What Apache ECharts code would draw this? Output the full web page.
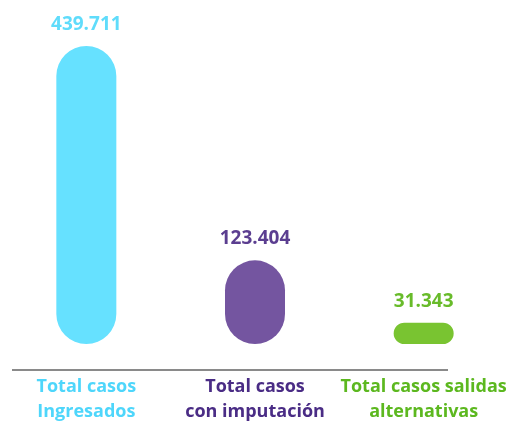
<!DOCTYPE html>
<html style="height: 100%">
<head>
    <meta charset="utf-8">
</head>
<body style="height: 100%; margin: 0; background: #fff">
<div id="container" style="width: 514px; height: 424px"></div>

<script type="text/javascript" src="https://cdn.jsdelivr.net/npm/echarts@6/dist/echarts.min.js"></script>
<script type="text/javascript">
    // data
    var categories = ['Total casos\nIngresados', 'Total casos\ncon imputación', 'Total casos salidas\nalternativas'];
    var values = [439711, 123404, 31343];

    // colours
    var barColors = ['#66e1ff', '#7455a0', '#79c431'];
    var valueColors = ['#5fdcfb', '#5b3e90', '#68bb2a'];
    var catColors = ['#4ed6fb', '#4a2c85', '#5cb81f'];

    function fmt(v) {
        return String(v).replace(/\B(?=(\d{3})+(?!\d))/g, '.');
    }

    var dom = document.getElementById('container');
    var myChart = echarts.init(dom);
    var option;

    option = {
        animation: false,
        grid: {
            left: 2,
            right: 6,
            top: 46,
            bottom: 76
        },
        xAxis: {
            type: 'category',
            offset: 22,
            data: categories.map(function (c, i) {
                return {value: c, textStyle: {color: catColors[i]}};
            }),
            axisLine: {show: false},
            axisTick: {show: false},
            axisLabel: {
                interval: 0,
                margin: 8,
                fontFamily: 'Open Sans',
                fontWeight: 'bold',
                fontSize: 18,
                lineHeight: 25
            }
        },
        yAxis: {
            type: 'value',
            min: 0,
            max: 'dataMax',
            show: false,
            splitLine: {show: false}
        },
        graphic: [
            {
                type: 'line',
                shape: {x1: 12, y1: 370, x2: 448, y2: 370},
                style: {stroke: '#8a8a8a', lineWidth: 2}
            }
        ],
        series: [
            {
                type: 'bar',
                barWidth: 60,
                data: values.map(function (v, i) {
                    return {
                        value: v,
                        itemStyle: {color: barColors[i]},
                        label: {color: valueColors[i]}
                    };
                }),
                itemStyle: {borderRadius: 30},
                label: {
                    show: true,
                    position: 'top',
                    distance: 12,
                    fontFamily: 'Open Sans',
                    fontWeight: 'bold',
                    fontSize: 19,
                    formatter: function (p) {
                        return fmt(p.value);
                    }
                }
            }
        ]
    };

    if (option && typeof option === 'object') {
        myChart.setOption(option);
    }
</script>
</body>
</html>
